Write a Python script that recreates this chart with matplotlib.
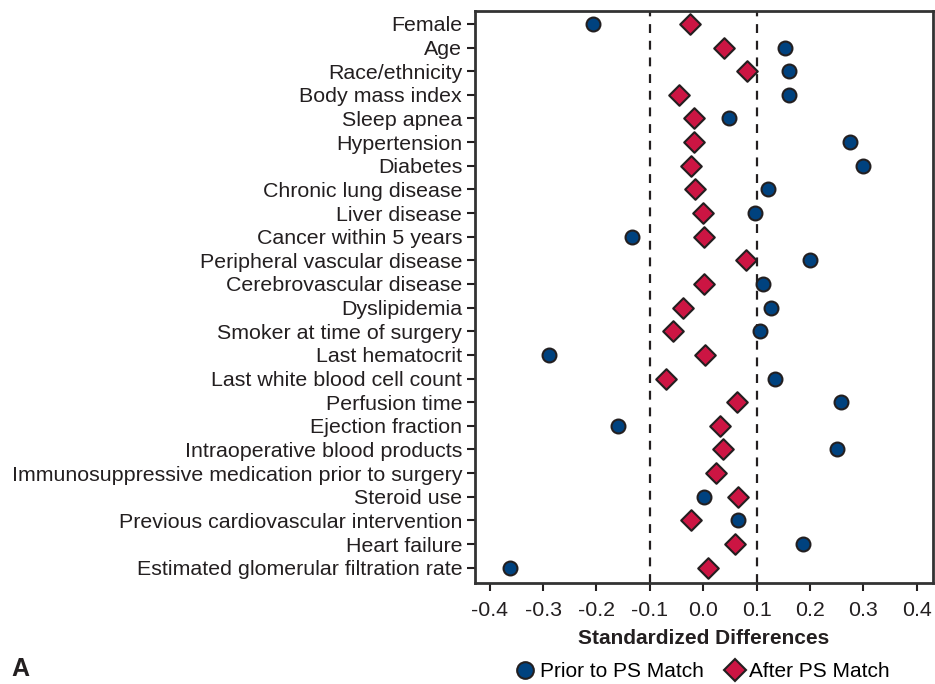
import matplotlib
matplotlib.use("Agg")
from matplotlib import pyplot as plt
from matplotlib.lines import Line2D

plt.rcParams['font.family'] = ['Liberation Sans', 'DejaVu Sans']

labels = ['Female', 'Age', 'Race/ethnicity', 'Body mass index', 'Sleep apnea',
          'Hypertension', 'Diabetes', 'Chronic lung disease', 'Liver disease',
          'Cancer within 5 years', 'Peripheral vascular disease',
          'Cerebrovascular disease', 'Dyslipidemia', 'Smoker at time of surgery',
          'Last hematocrit', 'Last white blood cell count', 'Perfusion time',
          'Ejection fraction', 'Intraoperative blood products',
          'Immunosuppressive medication prior to surgery', 'Steroid use',
          'Previous cardiovascular intervention', 'Heart failure',
          'Estimated glomerular filtration rate']
prior = [-0.207, 0.153, 0.160, 0.160, 0.048, 0.276, 0.300, 0.122, 0.098, -0.133,
         0.200, 0.112, 0.127, 0.107, -0.289, 0.134, 0.258, -0.160, 0.250, 0.025,
         0.002, 0.066, 0.188, -0.361]
after = [-0.025, 0.039, 0.082, -0.046, -0.017, -0.017, -0.022, -0.016, 0.000, 0.001,
         0.081, 0.002, -0.037, -0.056, 0.003, -0.069, 0.064, 0.032, 0.038, 0.025,
         0.066, -0.022, 0.059, 0.009]
xticks = [-0.4, -0.3, -0.2, -0.1, 0.0, 0.1, 0.2, 0.3, 0.4]

blue = '#00427f'
red = '#cc1543'
edge = '#231f20'

fig = plt.figure(figsize=(9.35, 6.84), dpi=100)
ax = fig.add_axes([0.5077, 0.1472, 0.4898, 0.8372])

y = list(range(len(labels)))
ax.axvline(-0.1, color=edge, ls=(0, (4, 3.5)), lw=1.6, zorder=1)
ax.axvline(0.1, color=edge, ls=(0, (4, 3.5)), lw=1.6, zorder=1)
ax.scatter(prior, y, marker='o', s=100, c=blue, edgecolors=edge, linewidths=1.5, zorder=3)
ax.scatter(after, y, marker='D', s=110, c=red, edgecolors=edge, linewidths=1.5, zorder=4)

ax.set_xlim(-0.428, 0.43)
ax.set_ylim(len(labels) - 1 + 0.66, -0.56)
ax.set_yticks(y)
ax.set_yticklabels(labels)
ax.set_xticks(xticks)
ax.set_xticklabels(['%.1f' % t for t in xticks])
ax.tick_params(axis='both', labelsize=15.4, color=edge, labelcolor='#231f20',
               width=1.5, length=6, direction='out')
ax.tick_params(axis='x', pad=7)
ax.tick_params(axis='y', pad=3)
for s in ax.spines.values():
    s.set_linewidth(2)
    s.set_color('#333333')

ax.set_xlabel('Standardized Differences', fontsize=15, fontweight='bold',
              color='#231f20', labelpad=6)

handles = [Line2D([], [], ls='', marker='o', markersize=12, markerfacecolor=blue,
                  markeredgecolor=edge, markeredgewidth=1.5),
           Line2D([], [], ls='', marker='D', markersize=11, markerfacecolor=red,
                  markeredgecolor=edge, markeredgewidth=1.5)]
fig.legend(handles, ['Prior to PS Match', 'After PS Match'], loc='center',
           bbox_to_anchor=(0.751, 0.018), ncol=2, frameon=False, fontsize=15,
           handletextpad=0.2, columnspacing=1.0, handlelength=1.0)

fig.text(0.012, 0.012, 'A', fontsize=18, fontweight='bold', color='#231f20')

fig.savefig('out.png', dpi=100)
